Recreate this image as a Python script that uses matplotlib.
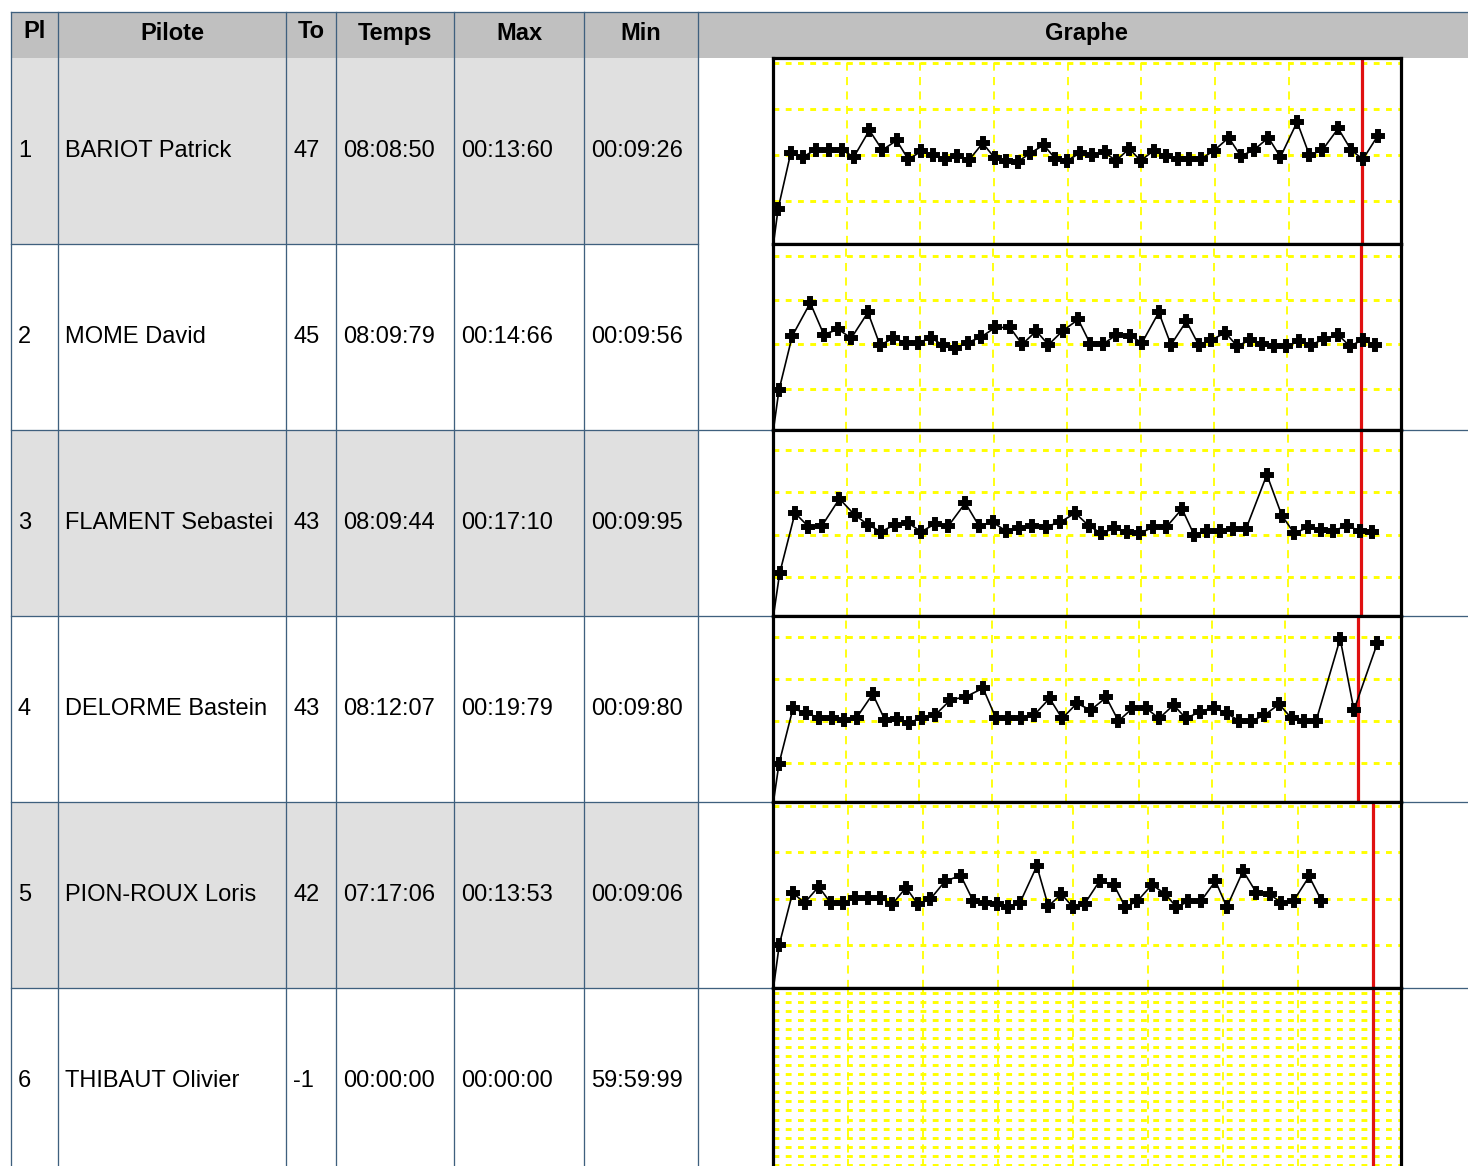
import numpy as np
import matplotlib
matplotlib.use("Agg")
import matplotlib.pyplot as plt

plt.rcParams['font.family'] = ['Liberation Sans', 'DejaVu Sans']

# donnees du tableau
places = ["1", "2", "3", "4", "5", "6"]
pilotes = ["BARIOT Patrick", "MOME David", "FLAMENT Sebastei",
           "DELORME Bastein", "PION-ROUX Loris", "THIBAUT Olivier"]
tours = ["47", "45", "43", "43", "42", "-1"]
temps = ["08:08:50", "08:09:79", "08:09:44", "08:12:07", "07:17:06", "00:00:00"]
max_tour = ["00:13:60", "00:14:66", "00:17:10", "00:19:79", "00:13:53", "00:00:00"]
min_tour = ["00:09:26", "00:09:56", "00:09:95", "00:09:80", "00:09:06", "59:59:99"]
entetes = ["Pl", "Pilote", "To", "Temps", "Max", "Min", "Graphe"]

# temps au tour (s), le premier est le tour de lancement
laps_bariot = [4.2, 10.2, 9.8, 10.6, 10.6, 10.6, 9.8, 12.7, 10.55, 11.6, 9.55,
               10.4, 10.0, 9.55, 9.9, 9.45, 11.3, 9.7, 9.4, 9.26, 10.2, 11.1,
               9.6, 9.4, 10.2, 10.05, 10.3, 9.4, 10.7, 9.4, 10.5, 9.9, 9.6, 9.6,
               9.6, 10.5, 11.9, 9.9, 10.55, 11.9, 9.8, 13.6, 10.0, 10.55, 12.9,
               10.55, 9.55, 12.1]
laps_mome = [4.8, 10.95, 14.66, 11.1, 11.7, 10.7, 13.6, 9.9, 10.7, 10.2, 10.2,
             10.7, 9.9, 9.56, 10.2, 10.8, 11.9, 11.9, 10.0, 11.5, 9.95, 11.5,
             12.8, 10.0, 10.0, 11.05, 10.95, 10.2, 13.6, 9.95, 12.6, 9.95, 10.5,
             11.3, 9.8, 10.5, 10.0, 9.8, 9.8, 10.35, 9.95, 10.6, 11.1, 9.8,
             10.5, 9.9]
laps_flament = [5.4, 12.55, 10.95, 11.05, 14.25, 12.35, 11.15, 10.35, 11.15,
                11.35, 10.35, 11.25, 11.05, 13.75, 11.05, 11.45, 10.45, 10.75,
                11.05, 10.95, 11.45, 12.55, 11.05, 10.15, 10.75, 10.25, 10.15,
                10.85, 10.85, 13.05, 9.95, 10.45, 10.45, 10.65, 10.65, 17.1,
                12.25, 10.15, 10.85, 10.55, 10.45, 11.05, 10.45, 10.25]
laps_delorme = [4.9, 11.5, 10.9, 10.4, 10.4, 10.1, 10.4, 13.2, 10.1, 10.2, 9.8,
                10.4, 10.7, 12.5, 12.9, 13.9, 10.4, 10.4, 10.4, 10.7, 12.7, 10.3,
                12.1, 11.3, 12.8, 10.0, 11.5, 11.5, 10.3, 11.9, 10.3, 11.1, 11.6,
                10.9, 10.0, 10.0, 10.7, 12.0, 10.3, 10.0, 10.0, 19.79, 11.3, 19.3]
laps_pionroux = [5.05, 10.65, 9.55, 11.3, 9.55, 9.55, 10.1, 10.05, 10.1, 9.4,
                 11.2, 9.4, 9.95, 11.9, 12.5, 9.8, 9.55, 9.4, 9.06, 9.55, 13.53,
                 9.2, 10.5, 9.1, 9.45, 11.9, 11.5, 9.1, 9.75, 11.5, 10.55, 9.1,
                 9.7, 9.7, 11.9, 9.1, 13.0, 10.65, 10.5, 9.55, 9.8, 12.4, 9.8]
laps_thibaut = []
all_laps = [laps_bariot, laps_mome, laps_flament, laps_delorme, laps_pionroux,
            laps_thibaut]
temps_total = [488.50, 489.79, 489.44, 492.07, 437.06, 0.0]
y_haut = [20.55, 21.3, 22.4, 22.5, 20.45]
fin_course = 480  # 8 minutes

W, H = 1468, 1166
fig = plt.figure(figsize=(W / 100, H / 100), dpi=100)
bg = fig.add_axes([0, 0, 1, 1])
bg.set_xlim(0, W)
bg.set_ylim(H, 0)
bg.axis('off')

col_x = [11, 58, 286, 336, 454, 584, 698, W]
head_top, head_bot = 12, 58
row_h = 186
row_y = [head_bot + row_h * i for i in range(7)]
bleu = '#3f607e'
lw_px = 72 / 100

# fond
bg.fill_between([11, W], head_top, head_bot, color='#c0c0c0', lw=0)
for i in range(0, 6, 2):
    bg.fill_between([11, 698], row_y[i], row_y[i + 1], color='#e0e0e0', lw=0)

# lignes
bg.plot([11, W], [head_top, head_top], color=bleu, lw=1.3 * lw_px)
for x in col_x[:-1]:
    bg.plot([x, x], [head_top, H], color=bleu, lw=1.3 * lw_px)
for i in range(1, 6):
    x_end = 698 if i == 1 else W
    bg.plot([11, x_end], [row_y[i], row_y[i]], color=bleu, lw=1.3 * lw_px)

# entetes
for j, t in enumerate(entetes):
    xc = (col_x[j] + col_x[j + 1]) / 2 + (3 if t == "Graphe" else 0)
    yc = 31 if t in ("Pl", "To") else 33.5
    bg.text(xc, yc, t, ha='center', va='center', fontsize=17,
            fontweight='bold', color='black')

# cellules
cols = [places, pilotes, tours, temps, max_tour, min_tour]
for i in range(6):
    yc = (row_y[i] + row_y[i + 1]) / 2
    for j, c in enumerate(cols):
        t = bg.text(col_x[j] + 7, yc, c[i], ha='left', va='center',
                    fontsize=17, color='black')
        clip = matplotlib.patches.Rectangle((col_x[j], row_y[i]),
                                            col_x[j + 1] - col_x[j] - 2, row_h,
                                            transform=bg.transData)
        t.set_clip_path(clip)

# graphes
gx0, gx1 = 773, 1401
for i in range(6):
    y0, y1 = row_y[i], row_y[i + 1]
    ax = fig.add_axes([gx0 / W, 1 - y1 / H, (gx1 - gx0) / W, (y1 - y0) / H])
    xmax = max(temps_total[i], fin_course) * 1.047
    ax.set_xlim(0, xmax)
    ax.set_xticks(np.arange(60, xmax, 60))
    if i < 5:
        ax.set_ylim(0.35, y_haut[i])
        ax.set_yticks([5, 10, 15, 20])
    else:
        ax.set_ylim(-0.9, 1.05)
        ax.set_yticks(np.arange(-1, 1.01, 0.1))
    ax.xaxis.grid(True, color='#ffff00', lw=1.3, linestyle=(0, (4.5, 3.5)))
    ax.yaxis.grid(True, color='#ffff00', lw=2.1, linestyle=(0, (2, 2.2)))
    ax.set_axisbelow(True)
    ax.tick_params(length=0, labelbottom=False, labelleft=False)
    for s in ax.spines.values():
        s.set_linewidth(2.3)
        s.set_color('black')
    ax.axvline(fin_course, color='#e01010', lw=2.3, zorder=2)
    laps = all_laps[i]
    if laps:
        xs = np.concatenate([[0], np.cumsum(laps)])
        ys = np.concatenate([[0], laps])
        ax.plot(xs, ys, color='black', lw=1.2, marker='P', ms=8, mew=1.4,
                markevery=slice(1, None), zorder=3, clip_on=True)

fig.savefig('out.png', dpi=100)
